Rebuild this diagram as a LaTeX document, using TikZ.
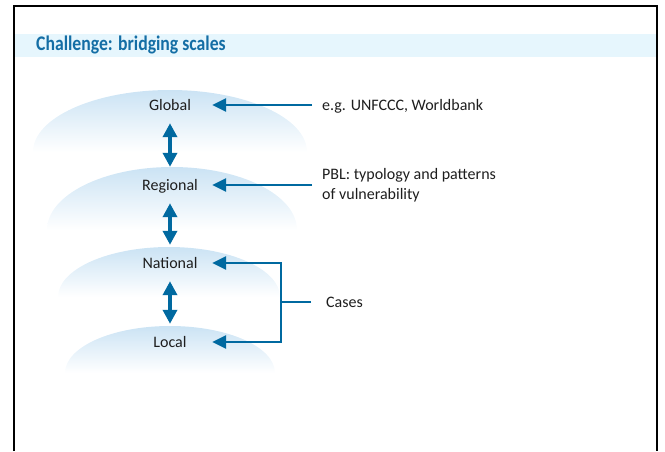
\documentclass[tikz,border=0pt]{standalone}
\usepackage{fontspec}
\setmainfont{Carlito}
\newfontfamily\titlefont{Carlito}[FakeStretch=0.85]
\usetikzlibrary{arrows.meta}

\definecolor{arrowblue}{RGB}{0,105,160}
\definecolor{titleblue}{RGB}{20,110,165}
\definecolor{bandblue}{RGB}{230,246,253}
\definecolor{cloudblue}{RGB}{203,227,244}
\definecolor{textgray}{RGB}{30,30,30}

\begin{document}
\begin{tikzpicture}[
		x=1pt, y=-1pt,
		level/.style={minimum width=84pt, minimum height=36pt, inner sep=0pt,
			text height=11pt, text depth=1pt, text=textgray, font=\fontsize{16}{20}\selectfont},
		note/.style={anchor=west, inner xsep=10pt, inner ysep=0pt, align=left,
			text=textgray, font=\fontsize{16}{20}\selectfont},
		link/.style={draw=arrowblue, line width=2.6pt, -{Triangle[length=14pt, width=13pt]}},
		updown/.style={draw=arrowblue, line width=4pt,
			{Triangle[length=14pt, width=14pt]}-{Triangle[length=14pt, width=14pt]}}
	]
  \useasboundingbox (0,0) rectangle (665,451);
  % title band
  \fill[bandblue] (15,34) rectangle (656,57);
  \node (title) [anchor=west, inner sep=0pt, text=titleblue,
    font=\titlefont\bfseries\fontsize{20.8}{24}\selectfont] at (36,45) {Challenge: bridging scales};
  % clouds behind the levels
  \foreach \cx/\by/\rx/\ry in {170/152/137/62, 172/230/125/63, 169/297/111/50, 170/373/105/47}
    \shade[top color=cloudblue, middle color=cloudblue!55, bottom color=white]
      (\cx-\rx,\by) arc[start angle=180, end angle=360, x radius=\rx, y radius=\ry] -- cycle;
  \node (global) [level] at (170,105) {Global};
  \node (regional) [level] at (170,185) {Regional};
  \node (national) [level] at (170,263) {National};
  \node (local) [level] at (170,342) {Local};
  \node (unfccc) [note, text height=11pt, text depth=1pt] at (312,105) {e.g. UNFCCC, Worldbank};
  \node (pbl) [note] at (312,185) {PBL: typology and patterns\\of vulnerability};
  \node (cases) [note, inner xsep=15pt, text height=11pt, text depth=1pt] at (311,302) {Cases};
  \coordinate (fork) at (281,302);
  \draw[updown] (global.south) -- (regional.north);
  \draw[updown] (regional.south) -- (national.north);
  \draw[updown] (national.south) -- (local.north);
  \draw[link] (unfccc.west) -- (global.east);
  \draw[link] (pbl.west) -- (regional.east);
  \draw[draw=arrowblue, line width=2.6pt] (cases.west) -- (fork);
  \draw[link] (fork) |- (national.east);
  \draw[link] (fork) |- (local.east);
  % frame
  \draw[line width=2pt] (14,451) -- (14,6) -- (657,6) -- (657,451);
\end{tikzpicture}
\end{document}
